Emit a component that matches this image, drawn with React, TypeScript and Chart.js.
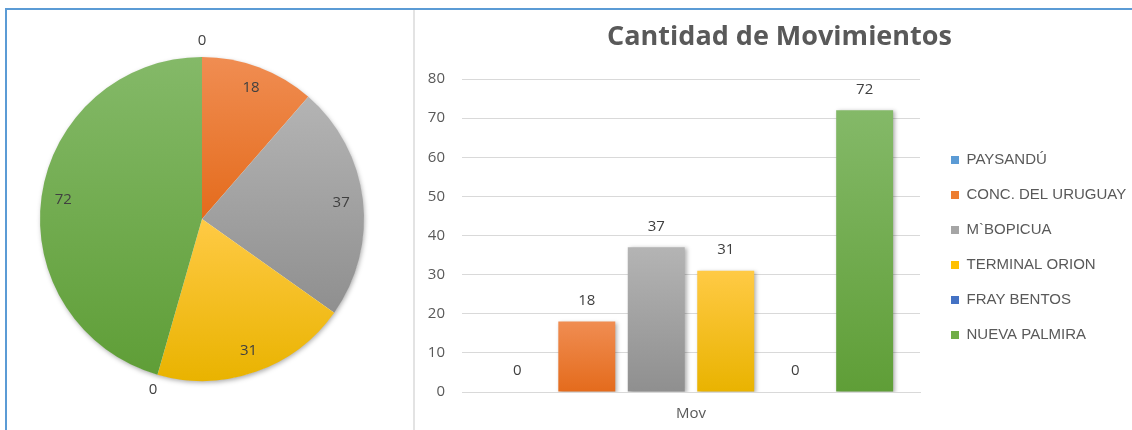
import React, { useEffect, useRef } from "react";
import { Chart, registerables } from "chart.js";

Chart.register(...registerables);

// ---- data ----
const categories = ["Mov"];
const seriesNames = [
  "PAYSANDÚ",
  "CONC. DEL URUGUAY",
  "M`BOPICUA",
  "TERMINAL ORION",
  "FRAY BENTOS",
  "NUEVA PALMIRA",
];
const seriesValues = [0, 18, 37, 31, 0, 72];
const yTickMin = 0;
const yTickMax = 80;
const yTickStep = 10;
const titleText = "Cantidad de Movimientos";

// ---- styles ----
const solidColors = ["#5b9bd5", "#ed7d31", "#a5a5a5", "#ffc000", "#4472c4", "#70ad47"];
const topColors = ["#6aa8df", "#f08d52", "#b4b4b4", "#ffca45", "#5582d0", "#84b968"];
const bottomColors = ["#4d8ccb", "#e46b1c", "#8f8f8f", "#e9b300", "#3a66b8", "#5f9e37"];
const FONT = "'Open Sans', sans-serif";
const LEGEND_FONT = "'Liberation Sans', Arial, sans-serif";
const TEXT = "#595959";
const LABEL = "#404040";
const GRID = "#d9d9d9";

function sliceBounds(cy: number, r: number, a0: number, a1: number) {
  const ys = [cy, cy + r * Math.sin(a0), cy + r * Math.sin(a1)];
  const start = Math.ceil(a0 / (Math.PI / 2));
  for (let k = start; k * (Math.PI / 2) <= a1; k++) {
    ys.push(cy + r * Math.sin(k * (Math.PI / 2)));
  }
  return [Math.min(...ys), Math.max(...ys)];
}

function pieGradient(c: any) {
  const chart = c.chart;
  const ca = chart.chartArea;
  const i = c.dataIndex;
  if (!ca) return solidColors[i];
  const cy = (ca.top + ca.bottom) / 2;
  const r = Math.min(ca.right - ca.left, ca.bottom - ca.top) / 2;
  const total = seriesValues.reduce((a, b) => a + b, 0);
  let cum = 0;
  for (let k = 0; k < i; k++) cum += seriesValues[k];
  const a0 = -Math.PI / 2 + (2 * Math.PI * cum) / total;
  const a1 = a0 + (2 * Math.PI * seriesValues[i]) / total;
  const [y0, y1] = sliceBounds(cy, r, a0, a1);
  if (y1 - y0 < 1) return solidColors[i];
  const g = chart.ctx.createLinearGradient(0, y0, 0, y1);
  g.addColorStop(0, topColors[i]);
  g.addColorStop(1, bottomColors[i]);
  return g;
}

function barGradient(c: any, i: number) {
  const chart = c.chart;
  const ys = chart.scales && chart.scales.y;
  if (!chart.chartArea || !ys) return solidColors[i];
  const top = ys.getPixelForValue(seriesValues[i]);
  const bottom = ys.getPixelForValue(0);
  if (bottom - top < 1) return solidColors[i];
  const g = chart.ctx.createLinearGradient(0, top, 0, bottom);
  g.addColorStop(0, topColors[i]);
  g.addColorStop(1, bottomColors[i]);
  return g;
}

const pieExtras = {
  id: "pieExtras",
  beforeDatasetsDraw(chart: any) {
    const meta = chart.getDatasetMeta(0);
    const arc = meta.data[0];
    if (!arc) return;
    const ctx = chart.ctx;
    ctx.save();
    ctx.shadowColor = "rgba(0,0,0,0.35)";
    ctx.shadowBlur = 5;
    ctx.shadowOffsetX = 1;
    ctx.shadowOffsetY = 2;
    ctx.fillStyle = "#ffffff";
    ctx.beginPath();
    ctx.arc(arc.x, arc.y, arc.outerRadius - 0.5, 0, Math.PI * 2);
    ctx.fill();
    ctx.restore();
  },
  afterDatasetsDraw(chart: any) {
    const ctx = chart.ctx;
    const meta = chart.getDatasetMeta(0);
    ctx.save();
    ctx.font = `15px ${FONT}`;
    ctx.fillStyle = LABEL;
    ctx.textAlign = "center";
    ctx.textBaseline = "middle";
    meta.data.forEach((el: any, i: number) => {
      const v = seriesValues[i];
      const mid = (el.startAngle + el.endAngle) / 2;
      const rr = v === 0 ? el.outerRadius + 16 : el.outerRadius * 0.865;
      ctx.fillText(String(v), el.x + rr * Math.cos(mid), el.y + rr * Math.sin(mid));
    });
    ctx.restore();
  },
};

const barExtras = {
  id: "barExtras",
  beforeDatasetsDraw(chart: any) {
    const ctx = chart.ctx;
    ctx.save();
    ctx.shadowColor = "rgba(0,0,0,0.3)";
    ctx.shadowBlur = 4;
    ctx.shadowOffsetX = 2;
    ctx.shadowOffsetY = 1;
  },
  afterDatasetsDraw(chart: any) {
    const ctx = chart.ctx;
    ctx.restore();
    ctx.save();
    ctx.font = `15px ${FONT}`;
    ctx.fillStyle = LABEL;
    ctx.textAlign = "center";
    ctx.textBaseline = "middle";
    chart.data.datasets.forEach((ds: any, di: number) => {
      const meta = chart.getDatasetMeta(di);
      meta.data.forEach((el: any, j: number) => {
        ctx.fillText(String(ds.data[j]), el.x, el.y - 21);
      });
    });
    ctx.restore();
  },
};

export default function App() {
  const pieRef = useRef<HTMLCanvasElement>(null);
  const barRef = useRef<HTMLCanvasElement>(null);

  useEffect(() => {
    const pie = new Chart(pieRef.current as HTMLCanvasElement, {
      type: "pie",
      data: {
        labels: seriesNames,
        datasets: [
          {
            data: seriesValues,
            backgroundColor: pieGradient as any,
            borderWidth: 0,
            hoverOffset: 0,
          },
        ],
      },
      options: {
        responsive: false,
        animation: false,
        devicePixelRatio: 1,
        layout: { padding: { left: 33, top: 47, right: 49, bottom: 49 } },
        plugins: {
          legend: { display: false },
          title: { display: false },
          tooltip: { enabled: false },
        },
      },
      plugins: [pieExtras],
    });

    const bar = new Chart(barRef.current as HTMLCanvasElement, {
      type: "bar",
      data: {
        labels: categories,
        datasets: seriesNames.map((name, i) => ({
          label: name,
          data: [seriesValues[i]],
          backgroundColor: ((c: any) => barGradient(c, i)) as any,
          borderWidth: 0,
          categoryPercentage: 0.91,
          barPercentage: 0.82,
        })),
      },
      options: {
        responsive: false,
        animation: false,
        devicePixelRatio: 1,
        layout: { padding: { left: 13, right: 1, top: 0, bottom: 10 } },
        plugins: {
          title: {
            display: true,
            text: titleText,
            color: TEXT,
            font: { family: FONT, size: 27, weight: "bold" },
            padding: { top: 11.5, bottom: 25.1 },
          },
          legend: {
            position: "right",
            align: "center",
            fullSize: false,
            maxWidth: 200,
            title: { display: true, text: "", font: { size: 10 }, padding: 6 },
            labels: {
              boxWidth: 8,
              boxHeight: 8,
              padding: 20,
              color: TEXT,
              font: { family: LEGEND_FONT, size: 15 },
              generateLabels: (chart: any) =>
                chart.data.datasets.map((ds: any, i: number) => ({
                  text: ds.label,
                  fillStyle: solidColors[i],
                  strokeStyle: solidColors[i],
                  lineWidth: 0,
                  fontColor: TEXT,
                  hidden: false,
                  datasetIndex: i,
                })),
            },
          },
          tooltip: { enabled: false },
        },
        scales: {
          x: {
            grid: { display: false, drawTicks: false },
            border: { display: true, color: GRID },
            ticks: { color: TEXT, font: { family: FONT, size: 15 }, padding: 13 },
            afterFit: (s: any) => {
              s.height = 28;
            },
          },
          y: {
            min: yTickMin,
            max: yTickMax,
            ticks: {
              stepSize: yTickStep,
              padding: 17,
              color: TEXT,
              font: { family: FONT, size: 15 },
            },
            grid: { color: GRID, drawTicks: false },
            border: { display: false },
            afterFit: (s: any) => {
              s.width = 34;
            },
          },
          gap: {
            type: "linear",
            position: "right",
            display: true,
            ticks: { display: false },
            grid: { display: false, drawTicks: false },
            border: { display: false },
            afterFit: (s: any) => {
              s.width = 11;
            },
          } as any,
        },
      },
      plugins: [barExtras],
    });

    return () => {
      pie.destroy();
      bar.destroy();
    };
  }, []);

  return (
    <div
      style={{
        position: "fixed",
        left: 0,
        top: 0,
        width: 1132,
        height: 430,
        background: "#ffffff",
        overflow: "hidden",
      }}
    >
      <div style={{ position: "absolute", left: 5, top: 8, width: 1127, height: 2, background: "#5b9bd5" }} />
      <div style={{ position: "absolute", left: 5, top: 8, width: 2, height: 422, background: "#5b9bd5" }} />
      <div style={{ position: "absolute", left: 413, top: 10, width: 2, height: 420, background: "#e3e3e3" }} />
      <canvas
        ref={pieRef}
        width={406}
        height={420}
        style={{ position: "absolute", left: 7, top: 10, width: 406, height: 420 }}
      />
      <canvas
        ref={barRef}
        width={717}
        height={420}
        style={{ position: "absolute", left: 415, top: 10, width: 717, height: 420 }}
      />
    </div>
  );
}
